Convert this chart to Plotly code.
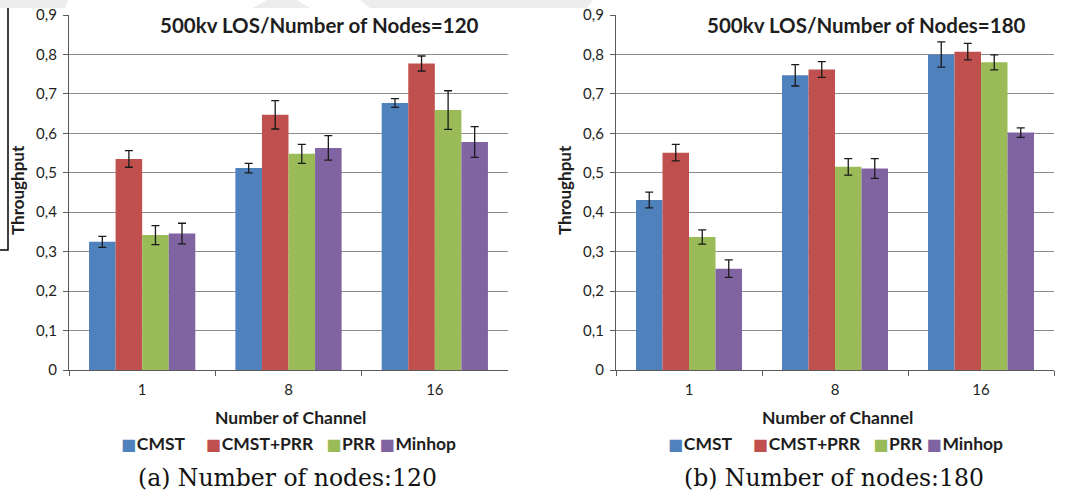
import plotly.graph_objects as go

# Channel counts on the x axis and the four routing schemes
channels = ["1", "8", "16"]
schemes = ["CMST", "CMST+PRR", "PRR", "Minhop"]
colors = ["#4F81BD", "#C0504D", "#9BBB59", "#8064A2"]

# Throughput, 120 nodes (one list per scheme, in channel order)
n120_cmst = [0.325, 0.512, 0.677]
n120_cmst_prr = [0.535, 0.647, 0.777]
n120_prr = [0.342, 0.548, 0.659]
n120_minhop = [0.346, 0.563, 0.578]
n120_err_cmst = [0.014, 0.012, 0.011]
n120_err_cmst_prr = [0.021, 0.036, 0.019]
n120_err_prr = [0.024, 0.024, 0.049]
n120_err_minhop = [0.026, 0.031, 0.039]

# Throughput, 180 nodes
n180_cmst = [0.431, 0.747, 0.800]
n180_cmst_prr = [0.551, 0.762, 0.807]
n180_prr = [0.337, 0.515, 0.780]
n180_minhop = [0.257, 0.511, 0.602]
n180_err_cmst = [0.020, 0.027, 0.032]
n180_err_cmst_prr = [0.021, 0.020, 0.021]
n180_err_prr = [0.018, 0.021, 0.019]
n180_err_minhop = [0.022, 0.025, 0.012]

y_ticks = [0, 0.1, 0.2, 0.3, 0.4, 0.5, 0.6, 0.7, 0.8, 0.9]
y_tick_labels = ["0", "0,1", "0,2", "0,3", "0,4", "0,5", "0,6", "0,7", "0,8", "0,9"]

panel_titles = ["500kv LOS/Number of Nodes=120", "500kv LOS/Number of Nodes=180"]
captions = ["(a) Number of nodes:120", "(b) Number of nodes:180"]
x_title = "Number of Channel"
y_title = "Throughput"

W, H = 1072, 496
FONT = "Lato"
TXT = "#1e1e1e"
AXIS = "#5a5a5a"

panels = [
    ([n120_cmst, n120_cmst_prr, n120_prr, n120_minhop],
     [n120_err_cmst, n120_err_cmst_prr, n120_err_prr, n120_err_minhop]),
    ([n180_cmst, n180_cmst_prr, n180_prr, n180_minhop],
     [n180_err_cmst, n180_err_cmst_prr, n180_err_prr, n180_err_minhop]),
]

# plot areas in pixels: (left, right), shared top/bottom
x_px = [(69, 508), (616, 1054)]
y_top_px, y_bot_px = 15, 370
legend_y = 443


def px(x, y):
    return x / W, 1 - y / H


def legend_text():
    # one line of coloured squares followed by the scheme names
    gaps = ["&nbsp;" * 5, "&nbsp;" * 3, "&nbsp;", ""]
    parts = []
    for name, col, gap in zip(schemes, colors, gaps):
        parts.append(
            f'<span style="color:{col};font-family:DejaVu Sans;font-size:16px">■</span>'
            f'<span style="font-size:3px"> </span>{name}{gap}'
        )
    return "".join(parts)


fig = go.Figure()
for p, (vals, errs) in enumerate(panels):
    ax = "" if p == 0 else "2"
    for s in range(4):
        fig.add_trace(go.Bar(
            x=channels, y=vals[s], name=schemes[s], showlegend=False,
            marker=dict(color=colors[s], line=dict(width=0)),
            error_y=dict(type="data", array=errs[s], visible=True,
                         color="#1a1a1a", thickness=1.3, width=4),
            xaxis="x" + ax, yaxis="y" + ax,
        ))

layout = dict(
    template="none",
    width=W, height=H,
    margin=dict(l=0, r=0, t=0, b=0, autoexpand=False),
    paper_bgcolor="white", plot_bgcolor="white",
    barmode="group", bargap=0.274, bargroupgap=0,
    font=dict(family=FONT, color=TXT, size=15),
    showlegend=False,
    shapes=[], annotations=[],
)

for p in range(2):
    ax = "" if p == 0 else "2"
    l, r = x_px[p]
    cx = (l + r) / 2
    layout["xaxis" + ax] = dict(
        domain=[l / W, r / W], anchor="y" + ax, type="category",
        automargin=False,
        showline=True, linecolor=AXIS, linewidth=1.3,
        ticks="outside", tickson="boundaries", ticklen=5, tickcolor=AXIS,
        ticklabelstandoff=6,
        tickfont=dict(size=15, family=FONT, color=TXT),
        showgrid=False, zeroline=False,
    )
    layout["yaxis" + ax] = dict(
        domain=[1 - y_bot_px / H, 1 - y_top_px / H], anchor="x" + ax,
        automargin=False,
        range=[0, 0.9], tickvals=y_ticks, ticktext=y_tick_labels,
        showline=True, linecolor=AXIS, linewidth=1.3,
        ticks="outside", ticklen=5, tickcolor=AXIS,
        ticklabelstandoff=3,
        tickfont=dict(size=15, family=FONT, color=TXT),
        showgrid=True, gridcolor="#8c8c8c", gridwidth=1,
        zeroline=False,
    )

    # chart title, axis titles, legend and caption
    tx, ty = px(l + 250, 25)
    layout["annotations"].append(dict(
        text=panel_titles[p], xref="paper", yref="paper", x=tx, y=ty,
        xanchor="center", yanchor="middle", showarrow=False,
        font=dict(size=20.5, family=FONT, color=TXT, weight="bold"),
    ))
    tx, ty = px(cx + 2, 417)
    layout["annotations"].append(dict(
        text=x_title, xref="paper", yref="paper", x=tx, y=ty,
        xanchor="center", yanchor="middle", showarrow=False,
        font=dict(size=17.5, family=FONT, color=TXT, weight="bold"),
    ))
    tx, ty = px(l - 52, 190)
    layout["annotations"].append(dict(
        text=y_title, xref="paper", yref="paper", x=tx, y=ty, textangle=-90,
        xanchor="center", yanchor="middle", showarrow=False,
        font=dict(size=17, family=FONT, color=TXT, weight="bold"),
    ))
    tx, ty = px(cx, legend_y)
    layout["annotations"].append(dict(
        text=legend_text(), xref="paper", yref="paper", x=tx, y=ty,
        xanchor="center", yanchor="middle", showarrow=False,
        font=dict(size=17.5, family=FONT, color=TXT, weight="bold"),
    ))
    tx, ty = px(cx - 1, 478)
    layout["annotations"].append(dict(
        text=captions[p], xref="paper", yref="paper", x=tx, y=ty,
        xanchor="center", yanchor="middle", showarrow=False,
        font=dict(size=23.5, family="DejaVu Serif", color="#111111"),
    ))


# faint page watermark along the top edge
def px_path(points):
    return "M " + " L ".join("{:.5f},{:.5f}".format(*px(x, y)) for x, y in points) + " Z"


for pts in ([(0, 0), (68, 0), (65, 8), (0, 8)],
            [(267, 0), (297, 0), (310, 8), (252, 8)],
            [(360, 0), (593, 0), (587, 8), (370, 8)]):
    layout["shapes"].append(dict(type="path", path=px_path(pts), xref="paper", yref="paper",
                                 fillcolor="#ededed", line=dict(width=0), layer="below"))

# page border line on the left
a, b = px(8, 8)
c, d = px(8, 250)
layout["shapes"].append(dict(type="path", path=f"M {a},{b} L {c},{d} L 0,{d}",
                             xref="paper", yref="paper", line=dict(color="black", width=1.5)))

fig.update_layout(**layout)
fig.write_html("out.html")
